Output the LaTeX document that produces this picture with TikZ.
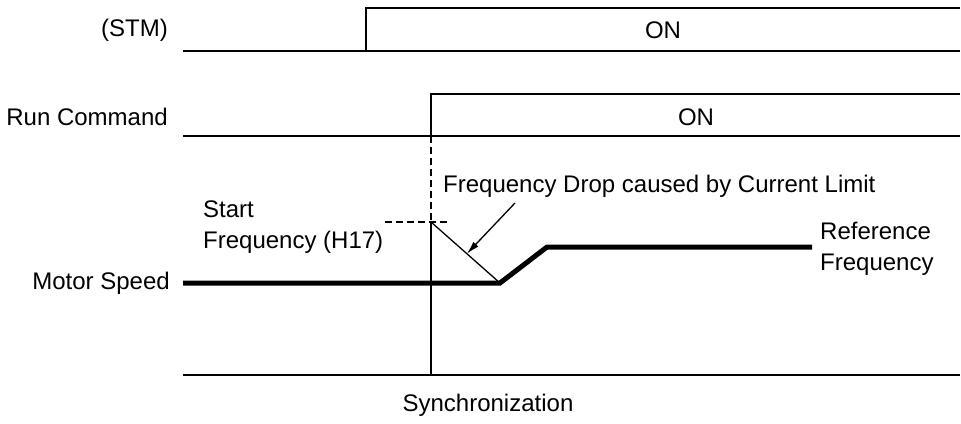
\documentclass[tikz,border=0pt]{standalone}
\usepackage{fontspec}
\setmainfont{Liberation Sans}
\usetikzlibrary{arrows.meta, positioning}

\begin{document}
\begin{tikzpicture}[x=1pt, y=-1pt, >={Latex[length=13pt,width=7pt]}, font=\fontsize{24}{31}\selectfont,
    sig/.style={line width=1.8pt},
    speed/.style={line width=5pt},
    guide/.style={line width=1.8pt, dash pattern=on 7pt off 4pt},
    lbl/.style={inner sep=0pt, align=left}]
  \useasboundingbox (0,0) rectangle (961,423);

  % key points of the timing chart
  \coordinate (stmstart) at (183,51);
  \coordinate (stmrise) at (366,51);
  \coordinate (stmhigh) at (960,8);
  \coordinate (stmend) at (960,51);
  \coordinate (runstart) at (183,136);
  \coordinate (runrise) at (431,136);
  \coordinate (runhigh) at (960,94);
  \coordinate (runend) at (960,136);
  \coordinate (startf) at (431,222);
  \coordinate (startdash) at (385,222);
  \coordinate (startdashend) at (447,222);
  \coordinate (syncbottom) at (431,375);
  \coordinate (axisstart) at (183,375);
  \coordinate (axisend) at (960,375);
  \coordinate (speedstart) at (183,283);
  \coordinate (knee) at (500,283);
  \coordinate (plateau) at (547,247);
  \coordinate (refend) at (812,247);
  \coordinate (droptail) at (515,203);

  % labels
  \node (stmlbl) [lbl, anchor=east] at (168,30) {(STM)};
  \node (runlbl) [lbl, anchor=east] at (168,117) {Run Command};
  \node (motorlbl) [lbl, anchor=east] at (170,283) {Motor Speed};
  \node (stmon) [lbl] at (663,30) {ON};
  \node (runon) [lbl] at (696,117) {ON};
  \node (droplbl) [lbl, anchor=west] at (443,186) {Frequency Drop caused by Current Limit};
  \node (startlbl) [lbl, anchor=west] at (203,227) {Start\\Frequency (H17)};
  \node (reflbl) [lbl, anchor=west] at (820,249) {Reference\\Frequency};
  \node (synclbl) [lbl] at (488,405) {Synchronization};

  % signals
  \draw[sig] (stmstart) -- (stmend);
  \draw[sig] (stmrise) |- (stmhigh);
  \draw[sig] (runstart) -- (runend);
  \draw[sig] (runrise) |- (runhigh);
  \draw[guide] (runrise) -- (startf);
  \draw[guide] (startdash) -- (startdashend);
  \draw[sig] (startf) -- (syncbottom);
  \draw[sig] (axisstart) -- (axisend);
  \draw[line width=1.3pt] (startf) -- coordinate[pos=0.52] (droptip) (knee);
  \draw[speed] (speedstart) -- (knee) -- (plateau) -- (refend);
  \draw[->, line width=1.3pt] (droptail) -- (droptip);
\end{tikzpicture}
\end{document}
